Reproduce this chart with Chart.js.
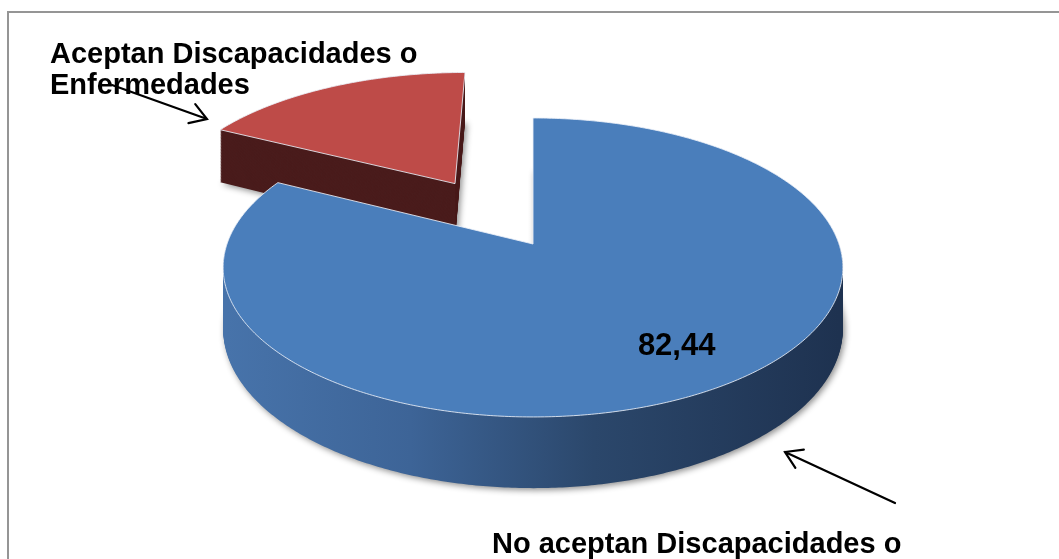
<!DOCTYPE html>
<html>
<head>
<meta charset="utf-8">
<script src="https://cdn.jsdelivr.net/npm/chart.js@4.4.1/dist/chart.umd.min.js"></script>
<style>
  html, body { margin: 0; padding: 0; background: #ffffff; }
  #wrap { width: 1059px; height: 559px; position: relative; }
</style>
</head>
<body>
<div id="wrap"><canvas id="c" width="1059" height="559"></canvas></div>
<script>
// ---- data ----
const categories = ['No aceptan Discapacidades o Enfermedades', 'Aceptan Discapacidades o Enfermedades'];
const values = [82.44, 17.56];
const valueLabels = ['82,44', ''];

// ---- styles ----
const topColors = ['#4A7EBB', '#BE4B48'];
const FONT = "'Liberation Sans', Arial, Helvetica, sans-serif";

// perspective projection constants (layout)
const PROJ = { cx: 533, cy: 244, a: 306, b: 145.8, c: 0.157, depth: 60 };

function project(u, v, z) {
  const d = 1 - PROJ.c * v;
  return [PROJ.cx + PROJ.a * u / d, PROJ.cy + (PROJ.b * v + PROJ.depth * z) / d];
}

function arcPoints(arc) {
  let R = Number(arc.outerRadius);
  if (!isFinite(R) || R <= 0) R = PROJ.a;
  const s = Number(arc.startAngle), e = Number(arc.endAngle);
  const circ = e - s;
  const off = (Number(arc.options && arc.options.offset) || 0) / 4;
  const fix = 1 - Math.sin(Math.min(Math.PI, circ));
  const t = off * (1 + fix);
  const mid = (s + e) / 2;
  const ox = Math.cos(mid) * t / R, oy = Math.sin(mid) * t / R;
  const pts = [[ox, oy]];
  const n = Math.max(8, Math.ceil(circ / 0.01));
  for (let i = 0; i <= n; i++) {
    const a = s + circ * i / n;
    pts.push([ox + Math.cos(a), oy + Math.sin(a)]);
  }
  return { pts, R, mid, ox, oy };
}

function pathAt(ctx, pts, z) {
  ctx.beginPath();
  pts.forEach((q, i) => {
    const [X, Y] = project(q[0], q[1], z);
    if (i === 0) ctx.moveTo(X, Y); else ctx.lineTo(X, Y);
  });
  ctx.closePath();
}

const pie3d = {
  id: 'pie3d',
  beforeDraw(chart) {
    const ctx = chart.ctx;
    ctx.save();
    ctx.fillStyle = '#ffffff';
    ctx.fillRect(0, 0, chart.width, chart.height);
    ctx.strokeStyle = '#959595';
    ctx.lineWidth = 2;
    ctx.strokeRect(8, 12, 1200, 700);
    ctx.restore();
  },
  beforeDatasetsDraw(chart) {
    const ctx = chart.ctx;
    const meta = chart.getDatasetMeta(0);
    const items = meta.data.map((arc, i) => ({ arc, i, geo: arcPoints(arc) }));
    if (items.some(it => !isFinite(it.geo.mid))) return false;
    // draw farther slices first
    items.sort((a, b) => Math.sin(a.geo.mid) - Math.sin(b.geo.mid));
    items.forEach(({ arc, i, geo }) => {
      let sideFill;
      if (i === 0) {
        const g = ctx.createLinearGradient(PROJ.cx - PROJ.a, 0, PROJ.cx + PROJ.a, 0);
        g.addColorStop(0, '#4773AA');
        g.addColorStop(0.3, '#3D6497');
        g.addColorStop(0.6, '#2B476B');
        g.addColorStop(1, '#1E3250');
        sideFill = g;
      } else {
        sideFill = '#4A1C1C';
      }
      const steps = 70;
      for (let k = steps; k >= 1; k--) {
        const z = k / steps;
        ctx.save();
        if (k === steps) {
          ctx.shadowColor = 'rgba(0,0,0,0.45)';
          ctx.shadowBlur = 6;
          ctx.shadowOffsetX = 2;
          ctx.shadowOffsetY = 2;
        }
        pathAt(ctx, geo.pts, z);
        ctx.fillStyle = sideFill;
        ctx.fill();
        ctx.restore();
      }
      // top face
      ctx.save();
      pathAt(ctx, geo.pts, 0);
      ctx.fillStyle = (arc.options && arc.options.backgroundColor) || topColors[i];
      ctx.fill();
      ctx.strokeStyle = 'rgba(235,240,248,0.85)';
      ctx.lineWidth = 1;
      ctx.stroke();
      ctx.restore();

      // value label
      if (valueLabels[i]) {
        const f = 0.8;
        const [X, Y] = project(geo.ox + Math.cos(geo.mid) * f, geo.oy + Math.sin(geo.mid) * f, 0);
        ctx.save();
        ctx.font = 'bold 31px ' + FONT;
        ctx.fillStyle = '#000000';
        ctx.textAlign = 'center';
        ctx.textBaseline = 'middle';
        ctx.fillText(valueLabels[i], X, Y - 9);
        ctx.restore();
      }
    });
    return false;
  },
  afterDraw(chart) {
    const ctx = chart.ctx;
    ctx.save();
    ctx.fillStyle = '#000000';
    ctx.font = 'bold 29px ' + FONT;
    ctx.textAlign = 'left';
    ctx.textBaseline = 'alphabetic';
    const w1 = categories[1].split(' ');
    ctx.fillText(w1.slice(0, 3).join(' '), 50, 63);
    ctx.fillText(w1.slice(3).join(' '), 50, 94);
    const w0 = categories[0].split(' ');
    ctx.fillText(w0.slice(0, 4).join(' '), 492, 553);
    ctx.fillText(w0.slice(4).join(' '), 492, 584);

    function arrow(x1, y1, x2, y2) {
      ctx.beginPath();
      ctx.moveTo(x1, y1);
      ctx.lineTo(x2, y2);
      const ang = Math.atan2(y2 - y1, x2 - x1);
      const L = 19, spread = 0.56;
      ctx.moveTo(x2 - L * Math.cos(ang - spread), y2 - L * Math.sin(ang - spread));
      ctx.lineTo(x2, y2);
      ctx.lineTo(x2 - L * Math.cos(ang + spread), y2 - L * Math.sin(ang + spread));
      ctx.stroke();
    }
    ctx.strokeStyle = '#000000';
    ctx.lineWidth = 2.2;
    ctx.lineCap = 'round';
    arrow(112, 85, 207, 119);
    arrow(895, 503, 785, 452);
    ctx.restore();
  }
};

new Chart(document.getElementById('c'), {
  type: 'pie',
  data: {
    labels: categories,
    datasets: [{
      data: values,
      backgroundColor: topColors,
      borderWidth: 0,
      offset: [0, 575]
    }]
  },
  options: {
    responsive: false,
    animation: false,
    radius: 306,
    layout: { padding: 0 },
    plugins: {
      legend: { display: false },
      tooltip: { enabled: false }
    }
  },
  plugins: [pie3d]
});
</script>
</body>
</html>
